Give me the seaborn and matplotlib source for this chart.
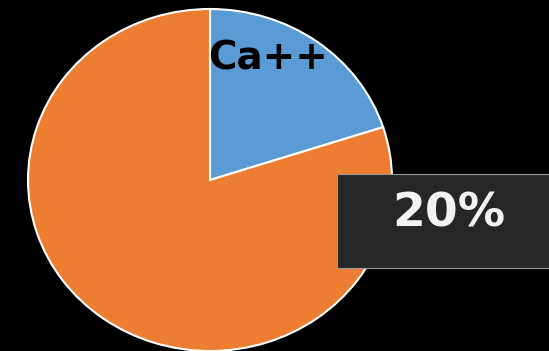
import matplotlib
matplotlib.use("Agg")
import matplotlib.pyplot as plt
from matplotlib.patches import Rectangle
import seaborn as sns

# Share of calcium ions
categories = ["Ca++", "Other"]
values = [20, 80]
colors = ["#5B9BD5", "#ED7D31"]

sns.set_theme(style="white")
plt.rcParams["font.family"] = ["DejaVu Sans"]

W, H = 549, 351
fig = plt.figure(figsize=(W / 100, H / 100), dpi=100, facecolor="black")
ax = fig.add_axes([28 / W, 0, 364 / W, 342 / H])
ax.set_facecolor("black")

wedges, _ = ax.pie(
    values,
    colors=colors,
    startangle=90,
    counterclock=False,
    radius=1,
    wedgeprops=dict(edgecolor="white", linewidth=1.5),
)
ax.set_aspect("auto")
ax.set_xlim(-1, 1)
ax.set_ylim(-1, 1)
ax.set_axis_off()

# Category name inside the highlighted slice
fig.text(268 / W, 1 - 59 / H, categories[0], color="black", fontsize=28,
         fontweight="bold", ha="center", va="center")

# Percentage callout box
share = values[0] / sum(values) * 100
box = Rectangle((337 / W, 1 - 268 / H), 230 / W, 94 / H,
                transform=fig.transFigure, facecolor="#262626",
                edgecolor="#9A9A9A", linewidth=0.8, clip_on=False)
fig.patches.append(box)
fig.text(449 / W, 1 - 214 / H, f"{share:.0f}%", color="#F2F2F2",
         fontsize=34, fontweight="bold", ha="center", va="center")

fig.savefig("out.png", dpi=100, facecolor="black")
